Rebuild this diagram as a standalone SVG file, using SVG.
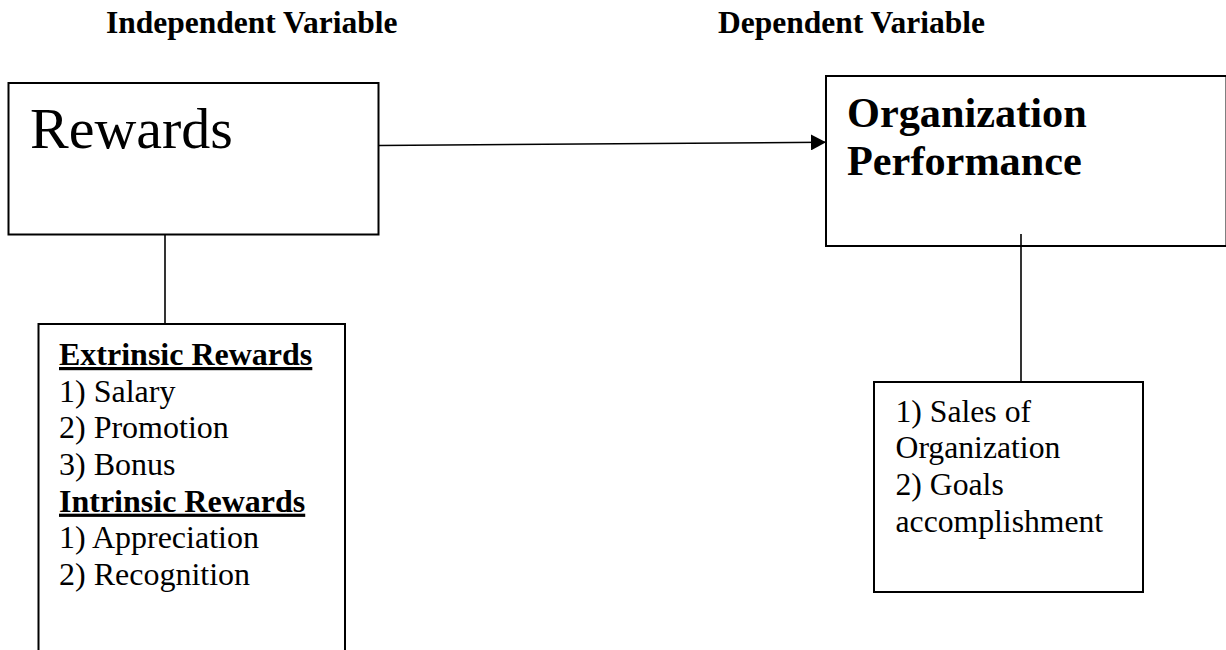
<svg xmlns="http://www.w3.org/2000/svg" width="1226" height="650" viewBox="0 0 1226 650">
<defs>
<style>
.box{fill:#fff;stroke:#000;stroke-width:2}
.ln{stroke:#000;stroke-width:1.6;fill:none}
.t{font-family:"Liberation Serif","Times New Roman",serif;fill:#000}
.b{font-weight:bold}
.u{text-decoration:underline}
</style>
<marker id="arr" markerWidth="15" markerHeight="16" refX="14" refY="8" orient="auto" markerUnits="userSpaceOnUse">
<path d="M0,0 L15,8 L0,16 Z" fill="#000"/>
</marker>
</defs>
<rect width="1226" height="650" fill="#fff"/>
<g id="headers">
<text class="t b" x="106" y="33" font-size="31.5">Independent Variable</text>
<text class="t b" x="718" y="33" font-size="31.5">Dependent Variable</text>
</g>
<g id="rewards">
<rect class="box" x="8.5" y="83" width="370" height="151.5"/>
<text class="t" x="30" y="148" font-size="58">Rewards</text>
</g>
<g id="org-performance">
<rect class="box" x="826" y="76" width="400.5" height="170"/>
<text class="t b" x="847" y="126.5" font-size="42.3">Organization</text>
<text class="t b" x="847" y="175" font-size="42.3">Performance</text>
</g>
<g id="rewards-detail">
<rect class="box" x="38.5" y="324" width="306.5" height="340"/>
<text class="t b u" x="59" y="365" font-size="32">Extrinsic Rewards</text>
<text class="t" x="59" y="401.5" font-size="32">1) Salary</text>
<text class="t" x="59" y="438.3" font-size="32">2) Promotion</text>
<text class="t" x="59" y="475" font-size="32">3) Bonus</text>
<text class="t b u" x="59" y="511.7" font-size="32">Intrinsic Rewards</text>
<text class="t" x="59" y="548.4" font-size="32">1) Appreciation</text>
<text class="t" x="59" y="585" font-size="32">2) Recognition</text>
</g>
<g id="performance-detail">
<rect class="box" x="874" y="382" width="269" height="210"/>
<text class="t" x="895.5" y="421.7" font-size="31.7">1) Sales of</text>
<text class="t" x="895.5" y="458.3" font-size="31.7">Organization</text>
<text class="t" x="895.5" y="495" font-size="31.7">2) Goals</text>
<text class="t" x="895.5" y="531.7" font-size="31.7">accomplishment</text>
</g>
<g id="connectors">
<line class="ln" x1="165" y1="235" x2="165" y2="324"/>
<line class="ln" x1="379" y1="145.5" x2="825" y2="142.3" marker-end="url(#arr)"/>
<line class="ln" x1="1021" y1="234" x2="1021" y2="382"/>
</g>
</svg>
